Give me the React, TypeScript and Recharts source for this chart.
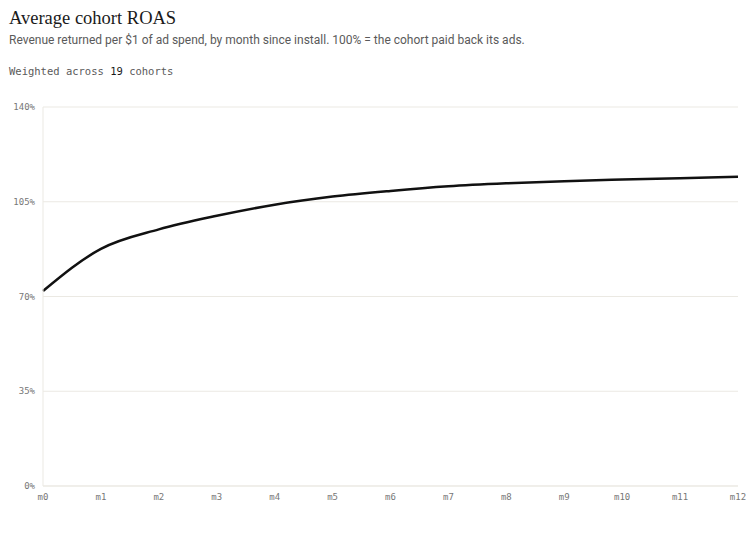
import React from "react";
import {
  LineChart,
  Line,
  XAxis,
  YAxis,
  CartesianGrid,
} from "recharts";

const months = ["m0", "m1", "m2", "m3", "m4", "m5", "m6", "m7", "m8", "m9", "m10", "m11", "m12"];
const roas = [72.0, 87.6, 94.8, 99.8, 103.9, 106.9, 109.0, 110.7, 111.8, 112.6, 113.2, 113.7, 114.2];
const yTicks = [0, 35, 70, 105, 140];
const cohortCount = 19;

const data = months.map((m, i) => ({ month: m, roas: roas[i] }));

const mono = "'DejaVu Sans Mono', 'Liberation Mono', monospace";
const sans = "Roboto, Inter, 'Noto Sans', sans-serif";
const gridColor = "#ebe9e3";

export default function App() {
  return (
    <div
      style={{
        position: "fixed",
        left: 0,
        top: 0,
        width: 746,
        height: 542,
        background: "#fff",
      }}
    >
      <div
        style={{
          position: "absolute",
          left: 9,
          top: 8,
          fontFamily: "'Liberation Serif', 'DejaVu Serif', serif",
          fontSize: 18.5,
          color: "#1a1a1a",
          whiteSpace: "nowrap",
        }}
      >
        Average cohort ROAS
      </div>
      <div
        style={{
          position: "absolute",
          left: 9,
          top: 33,
          fontFamily: sans,
          fontSize: 12,
          color: "#5a5a5a",
          whiteSpace: "nowrap",
        }}
      >
        Revenue returned per $1 of ad spend, by month since install. 100% = the cohort paid back its ads.
      </div>
      <div
        style={{
          position: "absolute",
          left: 9,
          top: 65,
          fontFamily: mono,
          fontSize: 10.5,
          color: "#5a5a5a",
          whiteSpace: "pre",
        }}
      >
        Weighted across <span style={{ color: "#1a1a1a" }}>{cohortCount}</span> cohorts
      </div>

      <div style={{ position: "absolute", left: 0, top: 0 }}>
        <LineChart
          width={746}
          height={542}
          data={data}
          margin={{ top: 107, right: 8, bottom: 0, left: 0 }}
          style={{ overflow: "visible" }}
        >
          <CartesianGrid vertical={false} stroke={gridColor} />
          <XAxis
            dataKey="month"
            height={56}
            tickLine={false}
            tickSize={0}
            tickMargin={8}
            axisLine={{ stroke: gridColor }}
            interval={0}
            tick={{ fontFamily: mono, fontSize: 9, fill: "#777" }}
          />
          <YAxis
            width={43}
            domain={[0, 140]}
            ticks={yTicks}
            tickFormatter={(v) => `${v}%`}
            tickLine={false}
            tickSize={0}
            tickMargin={8}
            axisLine={{ stroke: gridColor }}
            tick={{ fontFamily: mono, fontSize: 9, fill: "#777" }}
          />
          <Line
            type="monotone"
            dataKey="roas"
            stroke="#111"
            strokeWidth={2.5}
            dot={false}
            activeDot={false}
            isAnimationActive={false}
          />
        </LineChart>
      </div>
    </div>
  );
}
